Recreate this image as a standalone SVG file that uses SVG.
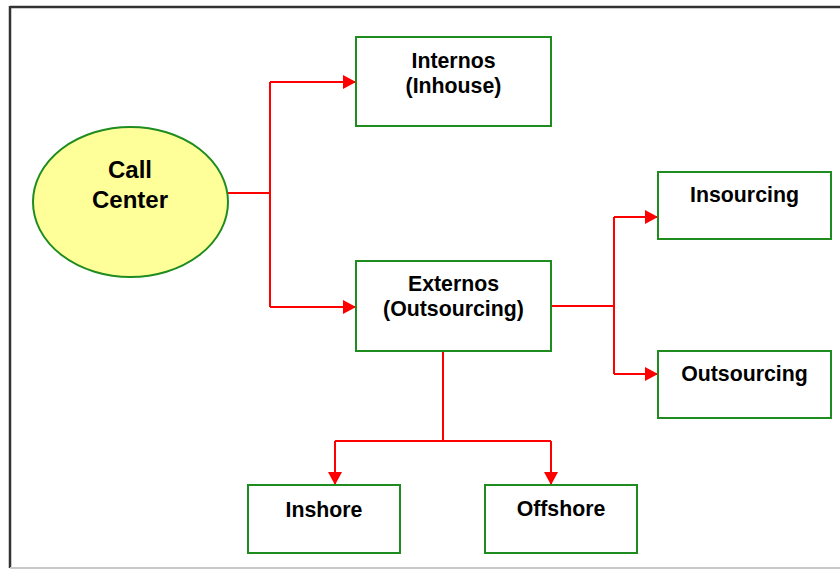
<svg xmlns="http://www.w3.org/2000/svg" width="840" height="569" viewBox="0 0 840 569">
  <style>
    .box { fill: #ffffff; stroke: #1e8c1e; stroke-width: 2; }
    .oval { fill: #ffff99; stroke: #1e8c1e; stroke-width: 2; }
    .lbl { font-family: "Liberation Sans", Arial, sans-serif; font-weight: bold; font-size: 21.3px; fill: #000; text-anchor: middle; }
    .big { font-size: 24px; }
    .wire { fill: none; stroke: #ff0000; stroke-width: 2; }
  </style>
  <defs>
    <marker id="arrow" viewBox="0 0 13 14" refX="13" refY="7" markerWidth="13" markerHeight="14" markerUnits="userSpaceOnUse" orient="auto">
      <path d="M0,0 L13,7 L0,14 Z" fill="#ff0000"/>
    </marker>
  </defs>

  <rect width="840" height="569" fill="#ffffff"/>

  <!-- frame -->
  <g id="frame">
    <line x1="10" y1="7" x2="840" y2="7" stroke="#333333" stroke-width="2.5"/>
    <line x1="10" y1="6" x2="10" y2="568" stroke="#333333" stroke-width="2.5"/>
    <line x1="10" y1="568" x2="840" y2="568" stroke="#c8c8c8" stroke-width="2"/>
  </g>

  <!-- connectors -->
  <g id="connectors">
    <path class="wire" d="M228,193 H270"/>
    <path class="wire" d="M270,82 V307"/>
    <path class="wire" d="M270,82 H356" marker-end="url(#arrow)"/>
    <path class="wire" d="M270,307 H356" marker-end="url(#arrow)"/>

    <path class="wire" d="M551,306 H614"/>
    <path class="wire" d="M614,217 V374"/>
    <path class="wire" d="M614,217 H658" marker-end="url(#arrow)"/>
    <path class="wire" d="M614,374 H658" marker-end="url(#arrow)"/>

    <path class="wire" d="M443,351 V441"/>
    <path class="wire" d="M335,441 H551"/>
    <path class="wire" d="M335,441 V485" marker-end="url(#arrow)"/>
    <path class="wire" d="M551,441 V485" marker-end="url(#arrow)"/>
  </g>

  <g id="call-center">
    <ellipse class="oval" cx="130.5" cy="202" rx="97.5" ry="75"/>
    <text class="lbl big" x="130" y="178">Call</text>
    <text class="lbl big" x="130" y="208">Center</text>
  </g>

  <g id="internos">
    <rect class="box" x="356" y="37" width="195" height="89"/>
    <text class="lbl" x="453.5" y="68">Internos</text>
    <text class="lbl" x="453.5" y="93">(Inhouse)</text>
  </g>

  <g id="externos">
    <rect class="box" x="356" y="261" width="195" height="90"/>
    <text class="lbl" x="453.5" y="291">Externos</text>
    <text class="lbl" x="453.5" y="316">(Outsourcing)</text>
  </g>

  <g id="insourcing">
    <rect class="box" x="658" y="172" width="173" height="67"/>
    <text class="lbl" x="744.5" y="202">Insourcing</text>
  </g>

  <g id="outsourcing">
    <rect class="box" x="658" y="351" width="173" height="67"/>
    <text class="lbl" x="744.5" y="381">Outsourcing</text>
  </g>

  <g id="inshore">
    <rect class="box" x="248" y="485" width="152" height="68"/>
    <text class="lbl" x="324" y="517">Inshore</text>
  </g>

  <g id="offshore">
    <rect class="box" x="485" y="485" width="152" height="68"/>
    <text class="lbl" x="561" y="516">Offshore</text>
  </g>
</svg>
